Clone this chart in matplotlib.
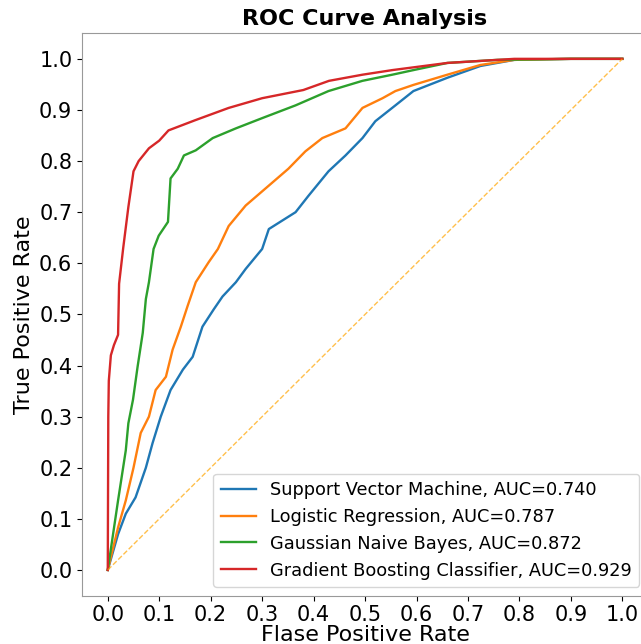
import matplotlib
matplotlib.use("Agg")
import matplotlib.pyplot as plt

# ROC points (false positive rate, true positive rate)
svm_fpr = [0.0, 0.02, 0.035, 0.054, 0.074, 0.087, 0.103, 0.122, 0.146, 0.165, 0.184,
           0.206, 0.223, 0.249, 0.268, 0.30, 0.313, 0.365, 0.39, 0.429, 0.462, 0.495,
           0.52, 0.559, 0.594, 0.66, 0.724, 0.79, 0.9, 1.0]
svm_tpr = [0.0, 0.07, 0.11, 0.142, 0.2, 0.248, 0.30, 0.352, 0.392, 0.417, 0.476,
           0.51, 0.535, 0.563, 0.589, 0.628, 0.667, 0.70, 0.732, 0.78, 0.811, 0.845,
           0.878, 0.909, 0.937, 0.963, 0.986, 0.998, 1.0, 1.0]

lr_fpr = [0.0, 0.02, 0.035, 0.05, 0.064, 0.08, 0.093, 0.113, 0.126, 0.142, 0.155,
          0.171, 0.196, 0.214, 0.235, 0.268, 0.313, 0.351, 0.384, 0.417, 0.462, 0.495,
          0.534, 0.559, 0.594, 0.66, 0.724, 0.79, 0.9, 1.0]
lr_tpr = [0.0, 0.083, 0.136, 0.2, 0.268, 0.3, 0.352, 0.378, 0.431, 0.476, 0.516,
          0.563, 0.602, 0.628, 0.673, 0.713, 0.752, 0.785, 0.819, 0.845, 0.864, 0.904,
          0.923, 0.937, 0.949, 0.969, 0.988, 0.998, 1.0, 1.0]

gnb_fpr = [0.0, 0.02, 0.035, 0.04, 0.049, 0.058, 0.068, 0.074, 0.08, 0.089, 0.099,
           0.117, 0.122, 0.136, 0.148, 0.171, 0.204, 0.249, 0.30, 0.365, 0.429, 0.495,
           0.553, 0.594, 0.66, 0.757, 0.9, 1.0]
gnb_tpr = [0.0, 0.136, 0.234, 0.287, 0.333, 0.398, 0.464, 0.53, 0.563, 0.628, 0.654,
           0.681, 0.766, 0.785, 0.811, 0.821, 0.845, 0.864, 0.884, 0.909, 0.937, 0.957,
           0.969, 0.978, 0.992, 0.998, 1.0, 1.0]

gbc_fpr = [0.0, 0.001, 0.002, 0.006, 0.012, 0.02, 0.022, 0.03, 0.04, 0.05, 0.06,
           0.08, 0.10, 0.118, 0.17, 0.235, 0.30, 0.38, 0.43, 0.495, 0.553, 0.66,
           0.79, 0.9, 1.0]
gbc_tpr = [0.0, 0.30, 0.37, 0.42, 0.44, 0.46, 0.56, 0.63, 0.71, 0.78, 0.80,
           0.825, 0.84, 0.86, 0.88, 0.904, 0.923, 0.939, 0.957, 0.969, 0.978, 0.992,
           1.0, 1.0, 1.0]

names = ["Support Vector Machine", "Logistic Regression",
         "Gaussian Naive Bayes", "Gradient Boosting Classifier"]
aucs = [0.740, 0.787, 0.872, 0.929]
ticks = [i / 10 for i in range(11)]

fig = plt.figure(figsize=(6.41, 6.44), dpi=100)
ax = fig.add_axes([0.128, 0.0753, 0.883, 0.873])

curves = [(svm_fpr, svm_tpr), (lr_fpr, lr_tpr), (gnb_fpr, gnb_tpr), (gbc_fpr, gbc_tpr)]
for (fpr, tpr), name, auc in zip(curves, names, aucs):
    ax.plot(fpr, tpr, lw=1.7, label="{}, AUC={:.3f}".format(name, auc))

ax.plot([0, 1], [0, 1], color="orange", linestyle="--", lw=1, alpha=0.7)

ax.set_xticks(ticks)
ax.set_yticks(ticks)
ax.tick_params(labelsize=15)
ax.set_xlabel("Flase Positive Rate", fontsize=16, labelpad=0)
ax.set_ylabel("True Positive Rate", fontsize=16)
ax.set_title("ROC Curve Analysis", fontweight="bold", fontsize=16)
for s in ax.spines.values():
    s.set_color("#999999")
ax.legend(loc="lower right", fontsize=12.8)

fig.savefig("out.png", dpi=100)
